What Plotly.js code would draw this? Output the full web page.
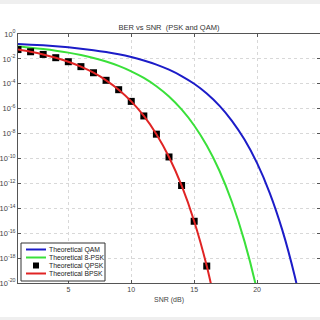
<!DOCTYPE html>
<html>
<head>
<meta charset="utf-8">
<script src="https://cdn.plot.ly/plotly-3.0.1.min.js"></script>
<style>
html,body{margin:0;padding:0;background:#fff;}
#chart{width:320px;height:320px;}
</style>
</head>
<body>
<div id="chart"></div>
<script>
// SNR (dB) sample points
const snr = [1,2,3,4,5,6,7,8,9,10,11,12,13,14,15,16,17,18,19,20,21,22,23,24];
// BER values
const berQAM = [1.57e-1,1.40e-1,1.22e-1,1.03e-1,8.46e-2,6.67e-2,5.02e-2,3.55e-2,2.34e-2,1.40e-2,7.5e-3,3.5e-3,1.36e-3,4.2e-4,1.0e-4,1.65e-5,1.76e-6,1.07e-7,3.3e-9,4.2e-11,1.76e-13,1.84e-16,3.3e-20,6.7e-25];
const snr8 = [1,2,3,4,5,6,7,8,9,10,11,12,13,14,15,16,17,18,19,20,21];
const ber8PSK = [9.76e-2,7.93e-2,6.18e-2,4.58e-2,3.19e-2,2.05e-2,1.195e-2,6.18e-3,2.75e-3,1.01e-3,2.94e-4,6.33e-5,9.4e-6,8.7e-7,4.5e-8,1.1e-9,1.08e-11,3.2e-14,2.2e-17,2.3e-21,1e-26];
const snrPSK = [1,2,3,4,5,6,7,8,9,10,11,12,13,14,15,16];
const berQPSK = [5.63e-2,3.75e-2,2.29e-2,1.25e-2,5.95e-3,2.39e-3,7.73e-4,1.91e-4,3.36e-5,3.87e-6,2.61e-7,9.0e-9,1.33e-10,6.8e-13,9.1e-16,2.3e-19];
const snrB = [1,2,3,4,5,6,7,8,9,10,11,12,13,14,15,16,17];
const berBPSK = [5.63e-2,3.75e-2,2.29e-2,1.25e-2,5.95e-3,2.39e-3,7.73e-4,1.91e-4,3.36e-5,3.87e-6,2.61e-7,9.0e-9,1.33e-10,6.8e-13,9.1e-16,2.3e-19,6.8e-24];
const names = ['Theoretical QAM','Theoretical 8-PSK','Theoretical QPSK','Theoretical BPSK'];
const yTickVals = [1,1e-2,1e-4,1e-6,1e-8,1e-10,1e-12,1e-14,1e-16,1e-18,1e-20];
const yTickText = ['10<sup>0</sup>','10<sup>-2</sup>','10<sup>-4</sup>','10<sup>-6</sup>','10<sup>-8</sup>','10<sup>-10</sup>','10<sup>-12</sup>','10<sup>-14</sup>','10<sup>-16</sup>','10<sup>-18</sup>','10<sup>-20</sup>'];
const titleText = 'BER vs SNR  (PSK and QAM)';
const xLabel = 'SNR (dB)';

const FONT = 'Liberation Sans, Arial, sans-serif';
const colors = ['#1c1cc8', '#3ae03a', '#000000', '#e02424'];
const data = [
  {x: snr, y: berQAM, name: names[0], mode: 'lines', line: {color: colors[0], width: 2, shape: 'spline', smoothing: 0.8}},
  {x: snr8, y: ber8PSK, name: names[1], mode: 'lines', line: {color: colors[1], width: 2, shape: 'spline', smoothing: 0.8}},
  {x: snrPSK, y: berQPSK, name: names[2], mode: 'markers', marker: {symbol: 'square', size: 7, color: colors[2], line: {width: 0}}},
  {x: snrB, y: berBPSK, name: names[3], mode: 'lines', line: {color: colors[3], width: 2, shape: 'spline', smoothing: 0.8}}
];

// plot area in pixels: x 18..320, y 34..283
const px = v => (v - 18) / 302;
const py = v => (283 - v) / 249;

// custom compact legend (MATLAB-style)
const legRows = [249.5, 257.5, 265.5, 273.5];
const shapes = [
  {type: 'rect', xref: 'paper', yref: 'paper', x0: -0.1, x1: 1.1, y0: py(4), y1: py(-2), fillcolor: '#efefef', line: {width: 0}, layer: 'below'},
  {type: 'rect', xref: 'paper', yref: 'paper', x0: -0.1, x1: 1.1, y0: py(323), y1: py(317), fillcolor: '#efefef', line: {width: 0}, layer: 'below'},
  {type: 'rect', xref: 'paper', yref: 'paper', x0: px(21), x1: px(105), y0: py(281), y1: py(243), fillcolor: '#fff', line: {color: '#333', width: 1}, layer: 'above'}
];
const annotations = [];
names.forEach((n, i) => {
  const yy = legRows[i];
  if (i === 2) {
    shapes.push({type: 'rect', xref: 'paper', yref: 'paper', x0: px(33), x1: px(39), y0: py(yy + 3), y1: py(yy - 3), fillcolor: colors[i], line: {width: 0}, layer: 'above'});
  } else {
    shapes.push({type: 'line', xref: 'paper', yref: 'paper', x0: px(26), x1: px(46), y0: py(yy), y1: py(yy), line: {color: colors[i], width: 2}, layer: 'above'});
  }
  annotations.push({xref: 'paper', yref: 'paper', x: px(47.5), y: py(yy), xanchor: 'left', yanchor: 'middle', text: n, showarrow: false,
                    borderpad: 0, font: {family: FONT, size: 6.8, color: '#222'}});
});

const layout = {
  width: 320, height: 320,
  margin: {l: 18, r: 0, t: 34, b: 37, pad: 0},
  paper_bgcolor: '#fff', plot_bgcolor: '#fff',
  font: {family: FONT, size: 7, color: '#444'},
  title: {text: titleText, x: 0.5, xref: 'paper', y: 1 - 27/320, yanchor: 'middle', font: {family: FONT, size: 7.5, color: '#333'}},
  showlegend: false,
  xaxis: {range: [1, 25], dtick: 5, tick0: 0, showline: true, linecolor: '#555', linewidth: 1, mirror: 'ticks',
          ticks: 'inside', ticklen: 3, tickcolor: '#555', showgrid: true, gridcolor: '#d8d8d8', griddash: 'dot', gridwidth: 1,
          zeroline: false, tickfont: {family: FONT, size: 7, color: '#444'},
          title: {text: xLabel, standoff: 4, font: {family: FONT, size: 7, color: '#444'}}},
  yaxis: {type: 'log', range: [-20, 0], tickmode: 'array', tickvals: yTickVals, ticktext: yTickText, showline: true, linecolor: '#555', linewidth: 1,
          mirror: 'ticks', ticks: 'inside', ticklen: 3, tickcolor: '#555', showgrid: true, gridcolor: '#d8d8d8', griddash: 'dot',
          gridwidth: 1, zeroline: false, tickfont: {family: FONT, size: 7.5, color: '#444'}},
  shapes: shapes,
  annotations: annotations
};

Plotly.newPlot('chart', data, layout, {displayModeBar: false, staticPlot: true});
</script>
</body>
</html>
